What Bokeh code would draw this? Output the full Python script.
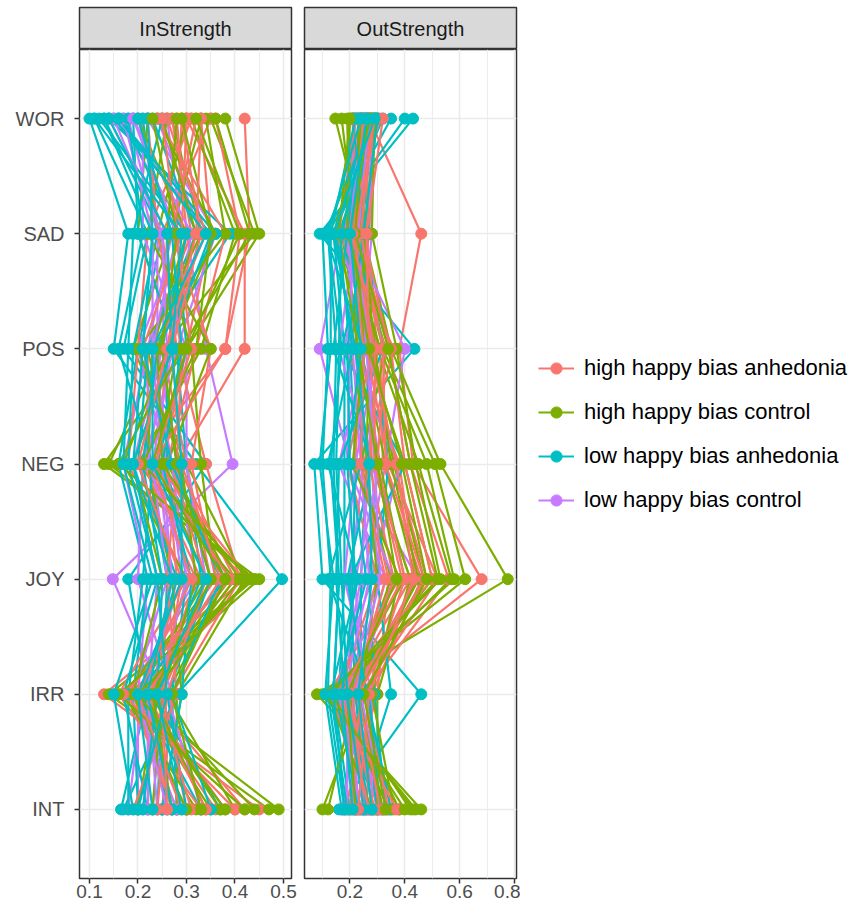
from bokeh.plotting import figure
from bokeh.layouts import row, column
from bokeh.models import Range1d, FixedTicker, Legend, LegendItem, PrintfTickFormatter
from bokeh.core.properties import value
from bokeh.embed import file_html
from bokeh.resources import INLINE

FONT = "Liberation Sans"

# y categories, bottom to top
nodes = ["INT", "IRR", "JOY", "NEG", "POS", "SAD", "WOR"]
panel_titles = ["InStrength", "OutStrength"]
groups = ["high happy bias anhedonia", "high happy bias control",
          "low happy bias anhedonia", "low happy bias control"]
colors = ["#F8766D", "#7CAE00", "#00BFC4", "#C77CFF"]

in_ticks = [0.1, 0.2, 0.3, 0.4, 0.5]
in_minor = [0.15, 0.25, 0.35, 0.45]
out_ticks = [0.2, 0.4, 0.6, 0.8]
out_minor = [0.1, 0.3, 0.5, 0.7]

# each row: one subject, values for [INT, IRR, JOY, NEG, POS, SAD, WOR]
in_high_anh = [
    [0.45, 0.13, 0.42, 0.20, 0.38, 0.43, 0.42],
    [0.42, 0.22, 0.40, 0.28, 0.42, 0.42, 0.30],
    [0.36, 0.20, 0.38, 0.25, 0.30, 0.35, 0.33],
    [0.30, 0.25, 0.35, 0.30, 0.25, 0.28, 0.29],
    [0.28, 0.18, 0.33, 0.22, 0.22, 0.31, 0.27],
    [0.25, 0.27, 0.41, 0.34, 0.28, 0.25, 0.35],
    [0.33, 0.16, 0.30, 0.18, 0.20, 0.22, 0.31],
    [0.22, 0.23, 0.28, 0.26, 0.32, 0.38, 0.24],
    [0.38, 0.21, 0.43, 0.24, 0.26, 0.30, 0.28],
    [0.27, 0.19, 0.36, 0.31, 0.35, 0.27, 0.32],
    [0.31, 0.24, 0.32, 0.21, 0.24, 0.34, 0.26],
    [0.19, 0.28, 0.26, 0.28, 0.29, 0.24, 0.22],
    [0.40, 0.17, 0.39, 0.23, 0.38, 0.41, 0.36],
    [0.24, 0.26, 0.34, 0.27, 0.21, 0.29, 0.30],
    [0.34, 0.22, 0.37, 0.29, 0.27, 0.33, 0.29],
    [0.29, 0.20, 0.31, 0.23, 0.31, 0.28, 0.25],
    [0.26, 0.25, 0.29, 0.20, 0.26, 0.32, 0.33],
]
in_high_ctl = [
    [0.49, 0.18, 0.45, 0.13, 0.30, 0.45, 0.38],
    [0.47, 0.14, 0.44, 0.14, 0.25, 0.44, 0.35],
    [0.44, 0.22, 0.40, 0.20, 0.33, 0.40, 0.31],
    [0.40, 0.26, 0.38, 0.27, 0.22, 0.33, 0.27],
    [0.35, 0.20, 0.34, 0.24, 0.28, 0.20, 0.22],
    [0.28, 0.28, 0.42, 0.30, 0.19, 0.27, 0.33],
    [0.20, 0.24, 0.30, 0.17, 0.26, 0.36, 0.24],
    [0.32, 0.17, 0.36, 0.33, 0.31, 0.24, 0.30],
    [0.25, 0.29, 0.27, 0.22, 0.23, 0.30, 0.20],
    [0.37, 0.21, 0.39, 0.26, 0.35, 0.22, 0.26],
    [0.23, 0.25, 0.32, 0.29, 0.20, 0.38, 0.34],
    [0.30, 0.19, 0.25, 0.19, 0.27, 0.26, 0.28],
    [0.42, 0.16, 0.44, 0.16, 0.29, 0.43, 0.36],
    [0.34, 0.23, 0.41, 0.25, 0.24, 0.32, 0.25],
    [0.38, 0.20, 0.43, 0.21, 0.32, 0.35, 0.29],
    [0.27, 0.23, 0.35, 0.28, 0.25, 0.28, 0.23],
    [0.33, 0.27, 0.38, 0.23, 0.30, 0.41, 0.32],
]
in_low_anh = [
    [0.17, 0.28, 0.497, 0.32, 0.15, 0.18, 0.10],
    [0.165, 0.22, 0.18, 0.34, 0.17, 0.22, 0.11],
    [0.20, 0.19, 0.22, 0.16, 0.20, 0.25, 0.13],
    [0.24, 0.25, 0.26, 0.22, 0.23, 0.39, 0.14],
    [0.28, 0.27, 0.30, 0.26, 0.26, 0.35, 0.15],
    [0.33, 0.20, 0.38, 0.24, 0.30, 0.28, 0.17],
    [0.37, 0.23, 0.33, 0.30, 0.28, 0.20, 0.19],
    [0.22, 0.17, 0.24, 0.18, 0.19, 0.24, 0.21],
    [0.26, 0.21, 0.28, 0.20, 0.22, 0.32, 0.23],
    [0.30, 0.26, 0.35, 0.28, 0.25, 0.30, 0.12],
    [0.18, 0.18, 0.21, 0.23, 0.16, 0.21, 0.18],
    [0.25, 0.29, 0.31, 0.25, 0.29, 0.27, 0.20],
    [0.21, 0.24, 0.25, 0.21, 0.24, 0.36, 0.16],
    [0.35, 0.27, 0.37, 0.27, 0.21, 0.23, 0.22],
    [0.19, 0.15, 0.23, 0.17, 0.18, 0.19, 0.25],
    [0.27, 0.22, 0.27, 0.19, 0.27, 0.26, 0.14],
    [0.23, 0.20, 0.29, 0.29, 0.27, 0.29, 0.11],
    [0.29, 0.24, 0.34, 0.23, 0.23, 0.34, 0.16],
    [0.20, 0.26, 0.24, 0.19, 0.21, 0.23, 0.13],
]
in_low_ctl = [
    [0.23, 0.25, 0.148, 0.395, 0.34, 0.30, 0.16],
    [0.20, 0.20, 0.22, 0.17, 0.22, 0.27, 0.20],
    [0.27, 0.23, 0.27, 0.24, 0.26, 0.33, 0.24],
    [0.30, 0.18, 0.32, 0.28, 0.24, 0.24, 0.18],
    [0.25, 0.27, 0.20, 0.21, 0.28, 0.36, 0.22],
    [0.18, 0.21, 0.29, 0.26, 0.20, 0.29, 0.26],
    [0.33, 0.26, 0.34, 0.30, 0.30, 0.21, 0.21],
    [0.22, 0.22, 0.24, 0.19, 0.25, 0.26, 0.14],
    [0.28, 0.19, 0.26, 0.23, 0.27, 0.31, 0.19],
    [0.21, 0.24, 0.30, 0.27, 0.23, 0.23, 0.17],
    [0.24, 0.22, 0.27, 0.25, 0.23, 0.28, 0.19],
    [0.26, 0.20, 0.31, 0.22, 0.26, 0.25, 0.15],
]

out_high_anh = [
    [0.38, 0.15, 0.68, 0.43, 0.38, 0.46, 0.27],
    [0.35, 0.25, 0.56, 0.42, 0.34, 0.25, 0.25],
    [0.30, 0.20, 0.48, 0.36, 0.29, 0.21, 0.30],
    [0.26, 0.28, 0.46, 0.32, 0.31, 0.18, 0.28],
    [0.22, 0.18, 0.42, 0.28, 0.27, 0.24, 0.23],
    [0.32, 0.12, 0.38, 0.22, 0.24, 0.20, 0.26],
    [0.18, 0.30, 0.34, 0.25, 0.36, 0.16, 0.22],
    [0.28, 0.22, 0.44, 0.38, 0.22, 0.27, 0.29],
    [0.24, 0.16, 0.30, 0.19, 0.28, 0.22, 0.24],
    [0.34, 0.26, 0.40, 0.30, 0.33, 0.19, 0.31],
    [0.20, 0.24, 0.52, 0.34, 0.26, 0.23, 0.21],
    [0.29, 0.19, 0.36, 0.27, 0.30, 0.26, 0.27],
    [0.37, 0.14, 0.50, 0.40, 0.35, 0.22, 0.29],
    [0.25, 0.21, 0.33, 0.24, 0.25, 0.20, 0.26],
    [0.31, 0.23, 0.47, 0.33, 0.32, 0.24, 0.28],
    [0.27, 0.17, 0.39, 0.29, 0.29, 0.21, 0.25],
    [0.23, 0.27, 0.43, 0.37, 0.27, 0.26, 0.32],
]
out_high_ctl = [
    [0.46, 0.08, 0.775, 0.53, 0.35, 0.25, 0.147],
    [0.44, 0.10, 0.62, 0.51, 0.32, 0.22, 0.17],
    [0.42, 0.14, 0.57, 0.45, 0.30, 0.20, 0.19],
    [0.38, 0.18, 0.50, 0.40, 0.26, 0.18, 0.22],
    [0.12, 0.22, 0.47, 0.36, 0.28, 0.24, 0.25],
    [0.10, 0.26, 0.44, 0.33, 0.24, 0.17, 0.27],
    [0.30, 0.30, 0.42, 0.28, 0.20, 0.27, 0.24],
    [0.25, 0.20, 0.35, 0.24, 0.33, 0.21, 0.28],
    [0.34, 0.16, 0.40, 0.31, 0.22, 0.26, 0.21],
    [0.20, 0.24, 0.30, 0.26, 0.27, 0.14, 0.26],
    [0.28, 0.12, 0.53, 0.44, 0.37, 0.28, 0.29],
    [0.36, 0.28, 0.38, 0.21, 0.25, 0.23, 0.23],
    [0.43, 0.11, 0.58, 0.48, 0.31, 0.19, 0.20],
    [0.32, 0.23, 0.45, 0.35, 0.29, 0.25, 0.30],
    [0.40, 0.13, 0.52, 0.42, 0.34, 0.22, 0.24],
    [0.22, 0.19, 0.37, 0.30, 0.23, 0.16, 0.20],
    [0.33, 0.25, 0.48, 0.39, 0.27, 0.20, 0.27],
]
out_low_anh = [
    [0.16, 0.46, 0.10, 0.07, 0.435, 0.09, 0.43],
    [0.18, 0.12, 0.13, 0.10, 0.12, 0.10, 0.40],
    [0.20, 0.14, 0.16, 0.14, 0.15, 0.12, 0.35],
    [0.24, 0.16, 0.18, 0.18, 0.18, 0.14, 0.32],
    [0.27, 0.20, 0.21, 0.22, 0.20, 0.16, 0.30],
    [0.30, 0.24, 0.24, 0.26, 0.23, 0.18, 0.29],
    [0.33, 0.29, 0.27, 0.30, 0.26, 0.21, 0.27],
    [0.22, 0.35, 0.30, 0.34, 0.29, 0.23, 0.25],
    [0.26, 0.22, 0.20, 0.40, 0.17, 0.27, 0.23],
    [0.29, 0.18, 0.15, 0.16, 0.32, 0.25, 0.21],
    [0.35, 0.26, 0.19, 0.28, 0.14, 0.19, 0.24],
    [0.19, 0.13, 0.23, 0.12, 0.21, 0.15, 0.26],
    [0.31, 0.27, 0.12, 0.24, 0.25, 0.11, 0.28],
    [0.23, 0.15, 0.26, 0.20, 0.19, 0.25, 0.30],
    [0.17, 0.11, 0.14, 0.09, 0.13, 0.13, 0.22],
    [0.25, 0.19, 0.17, 0.15, 0.16, 0.17, 0.27],
    [0.21, 0.17, 0.22, 0.19, 0.24, 0.20, 0.26],
    [0.28, 0.23, 0.28, 0.27, 0.22, 0.14, 0.29],
    [0.18, 0.14, 0.16, 0.13, 0.17, 0.12, 0.24],
]
out_low_ctl = [
    [0.21, 0.20, 0.45, 0.20, 0.09, 0.17, 0.28],
    [0.26, 0.17, 0.25, 0.33, 0.40, 0.20, 0.24],
    [0.17, 0.25, 0.20, 0.25, 0.22, 0.23, 0.26],
    [0.30, 0.22, 0.33, 0.16, 0.26, 0.19, 0.22],
    [0.24, 0.14, 0.28, 0.38, 0.18, 0.26, 0.29],
    [0.28, 0.28, 0.18, 0.22, 0.30, 0.15, 0.25],
    [0.19, 0.19, 0.30, 0.28, 0.16, 0.22, 0.21],
    [0.32, 0.24, 0.22, 0.31, 0.24, 0.28, 0.27],
    [0.23, 0.21, 0.36, 0.19, 0.20, 0.21, 0.23],
    [0.27, 0.16, 0.24, 0.27, 0.28, 0.18, 0.25],
    [0.22, 0.18, 0.27, 0.24, 0.21, 0.20, 0.24],
    [0.25, 0.21, 0.31, 0.29, 0.26, 0.23, 0.27],
]

in_data = [in_high_anh, in_high_ctl, in_low_anh, in_low_ctl]
out_data = [out_high_anh, out_high_ctl, out_low_anh, out_low_ctl]

YPOS = list(range(1, len(nodes) + 1))
FRAME_W = 212
STRIP_H = 49
PANEL_H = 851
GRID = "#EBEBEB"
DARK = "#333333"


def interleave(data_groups):
    xs, ys, cs = [], [], []
    n = max(len(g) for g in data_groups)
    for i in range(n):
        for gi, g in enumerate(data_groups):
            if i < len(g):
                xs.append(list(g[i]))
                ys.append(list(YPOS))
                cs.append(colors[gi])
    return xs, ys, cs


def make_strip(title, bl, br):
    s = figure(frame_width=FRAME_W, height=STRIP_H, x_range=Range1d(0, 1), y_range=Range1d(0, 1),
               x_axis_location=None, y_axis_location=None, toolbar_location=None,
               output_backend="svg", min_border_left=bl, min_border_right=br,
               min_border_top=7, min_border_bottom=0)
    s.grid.visible = False
    s.background_fill_color = "#D9D9D9"
    s.outline_line_color = DARK
    s.outline_line_width = 1.5
    s.text(x=[0.5], y=[0.5], text=[title], text_align="center", text_baseline="middle",
           text_font=value(FONT), text_font_size="20px", text_color="#1A1A1A")
    return s


def make_panel(data_groups, xr, ticks, minor, bl, br, show_y):
    p = figure(frame_width=FRAME_W, height=PANEL_H, x_range=Range1d(*xr), y_range=Range1d(0.4, 7.6),
               y_axis_location="left" if show_y else None, toolbar_location=None,
               output_backend="svg", min_border_left=bl, min_border_right=br,
               min_border_top=0, min_border_bottom=0)
    p.background_fill_color = "white"
    p.outline_line_color = DARK
    p.outline_line_width = 1.5
    p.xaxis.ticker = FixedTicker(ticks=ticks, minor_ticks=minor)
    p.xaxis.formatter = PrintfTickFormatter(format="%.1f")
    p.xgrid.ticker = FixedTicker(ticks=ticks, minor_ticks=minor)
    p.xgrid.grid_line_color = GRID
    p.xgrid.grid_line_width = 1.6
    p.xgrid.minor_grid_line_color = GRID
    p.xgrid.minor_grid_line_width = 0.9
    p.ygrid.ticker = FixedTicker(ticks=YPOS)
    p.ygrid.grid_line_color = GRID
    p.ygrid.grid_line_width = 1.6
    axes = [p.xaxis[0]] + ([p.yaxis[0]] if show_y else [])
    for ax in axes:
        ax.axis_line_color = None
        ax.major_tick_line_color = DARK
        ax.major_tick_line_width = 1.5
        ax.major_tick_out = 5
        ax.major_tick_in = 0
        ax.minor_tick_out = 0
        ax.minor_tick_in = 0
        ax.major_label_text_font = FONT
        ax.major_label_text_font_size = "19px"
        ax.major_label_text_color = "#4D4D4D"
        ax.major_label_standoff = 1
    if show_y:
        p.yaxis.ticker = FixedTicker(ticks=YPOS)
        p.yaxis.major_label_overrides = {y: n for y, n in zip(YPOS, nodes)}
        p.yaxis.major_label_text_font_size = "20px"
        p.yaxis.major_label_standoff = 10
    xs, ys, cs = interleave(data_groups)
    p.multi_line(xs=xs, ys=ys, line_color=cs, line_width=2.2)
    px, py, pc = [], [], []
    for x, y, c in zip(xs, ys, cs):
        px.extend(x)
        py.extend(y)
        pc.extend([c] * len(x))
    p.scatter(x=px, y=py, size=11, fill_color=pc, line_color=pc)
    return p


s1 = make_strip(panel_titles[0], 79, 6)
p1 = make_panel(in_data, (0.0794, 0.5165), in_ticks, in_minor, 79, 6, True)
s2 = make_strip(panel_titles[1], 7, 4)
p2 = make_panel(out_data, (0.0345, 0.807), out_ticks, out_minor, 7, 4, False)

lf = figure(width=336, height=STRIP_H + PANEL_H, x_range=Range1d(0, 1), y_range=Range1d(0, 1),
            x_axis_location=None, y_axis_location=None, toolbar_location=None,
            output_backend="svg", min_border=0)
lf.grid.visible = False
lf.outline_line_color = None
items = []
for label, color in zip(groups, colors):
    lr = lf.line(x=[-5, -4], y=[-5, -5], line_color=color, line_width=2.2)
    sr = lf.scatter(x=[-5], y=[-5], size=11, fill_color=color, line_color=color)
    items.append(LegendItem(label=label, renderers=[lr, sr]))
leg = Legend(items=items, location=(18, 386), padding=0, margin=0, spacing=16,
             glyph_width=36, glyph_height=28, label_height=28, label_standoff=10,
             border_line_color=None, background_fill_alpha=0,
             label_text_font=FONT, label_text_font_size="22px", label_text_color="black")
lf.add_layout(leg)

layout = row(column(s1, p1), column(s2, p2), lf)
open("out.html", "w").write(file_html(layout, INLINE))
